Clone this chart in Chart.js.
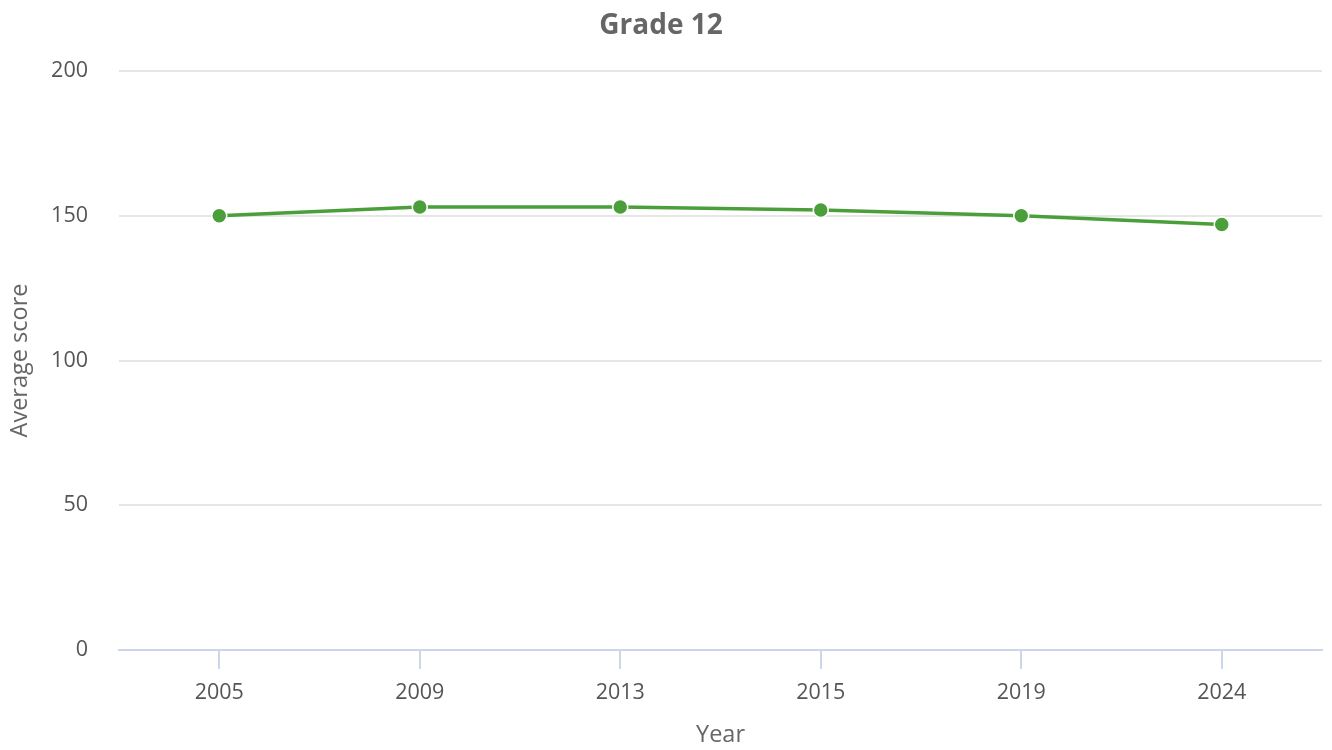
<!DOCTYPE html>
<html>
<head>
<meta charset="utf-8">
<script src="https://cdn.jsdelivr.net/npm/chart.js@4"></script>
<style>
  html, body { margin: 0; padding: 0; background: #fff; }
  #wrap { width: 1332px; height: 750px; position: relative; }
</style>
</head>
<body>
<div id="wrap"><canvas id="chart"></canvas></div>
<script>
// donnees
const years = ['2005', '2009', '2013', '2015', '2019', '2024'];
const scores = [150, 153, 153, 152, 150, 147];
const yTicks = [0, 50, 100, 150, 200];

const FONT = "'Open Sans', sans-serif";
const green = '#4b9f3a';

const ctx = document.getElementById('chart').getContext('2d');
const chart = new Chart(ctx, {
  type: 'line',
  data: {
    labels: years,
    datasets: [{
      label: 'Grade 12',
      data: scores,
      borderColor: green,
      backgroundColor: green,
      borderWidth: 3.5,
      pointRadius: 7.5,
      pointHoverRadius: 7.5,
      pointBackgroundColor: green,
      pointBorderColor: '#ffffff',
      pointBorderWidth: 1.5,
      tension: 0,
      fill: false
    }]
  },
  options: {
    responsive: true,
    maintainAspectRatio: false,
    animation: false,
    layout: { padding: { left: 0, right: 10, top: 0, bottom: 0 } },
    plugins: {
      legend: { display: false },
      tooltip: { enabled: false },
      title: {
        display: true,
        text: 'Grade 12',
        color: '#666666',
        font: { family: FONT, size: 28, weight: 'bold' },
        padding: { top: 9, bottom: 28.4 }
      }
    },
    scales: {
      x: {
        type: 'category',
        offset: true,
        border: { display: true, color: '#ccd6eb', width: 2 },
        grid: {
          offset: false,
          drawOnChartArea: false,
          drawTicks: true,
          tickLength: 19,
          color: '#ccd6eb',
          lineWidth: 2
        },
        ticks: {
          color: '#555555',
          font: { family: FONT, size: 21.5 },
          padding: 11,
          maxRotation: 0
        },
        title: {
          display: true,
          text: 'Year',
          color: '#666666',
          font: { family: FONT, size: 23.5 },
          padding: { top: 0, bottom: 1 }
        },
        afterFit: s => { s.height = 100; }
      },
      y: {
        min: 0,
        max: 200,
        afterBuildTicks: s => { s.ticks = yTicks.map(v => ({ value: v })); },
        border: { display: false },
        grid: {
          color: '#e6e6e6',
          lineWidth: 2,
          drawTicks: false
        },
        ticks: {
          color: '#555555',
          font: { family: FONT, size: 21.5 },
          padding: 31
        },
        title: {
          display: true,
          text: 'Average score',
          color: '#666666',
          font: { family: FONT, size: 23.5 },
          padding: { top: 6, bottom: 0 }
        },
        afterFit: s => { s.width = 119; }
      }
    }
  }
});
</script>
</body>
</html>
